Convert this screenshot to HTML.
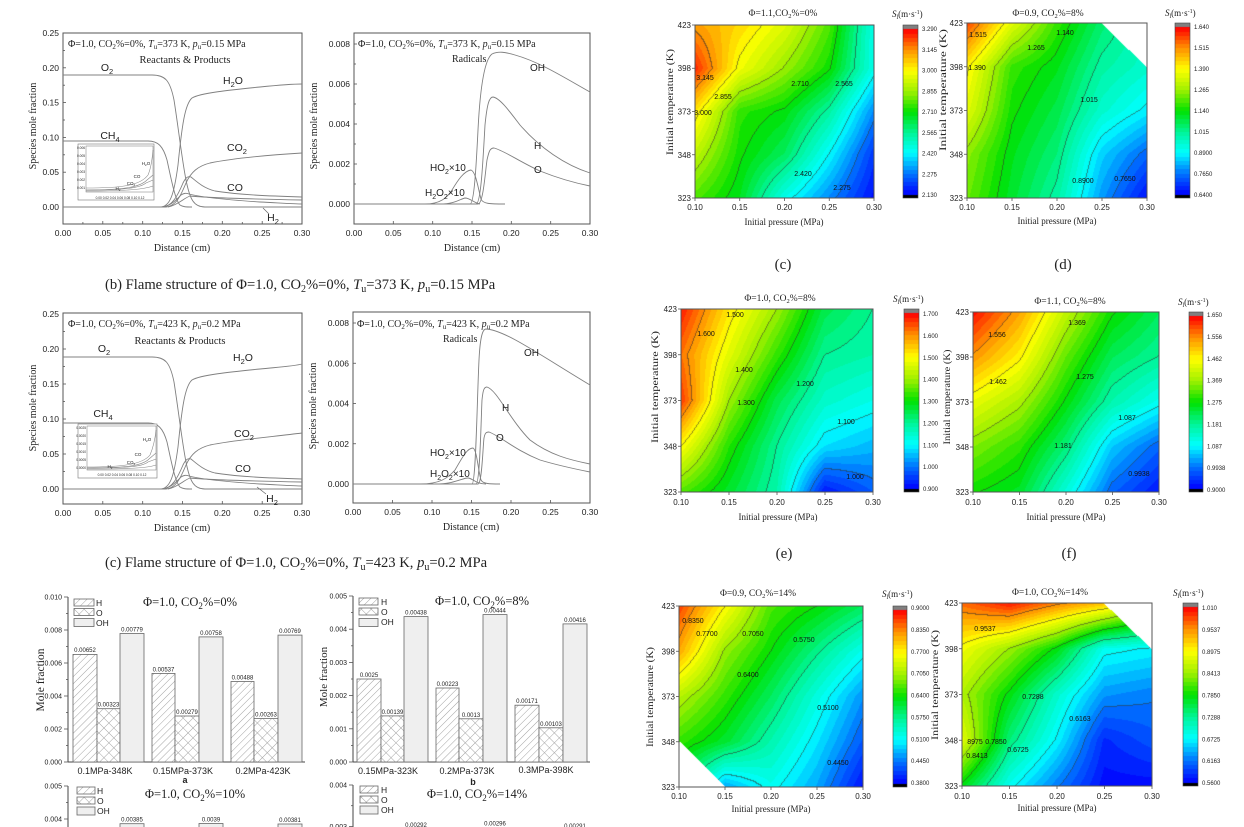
<!DOCTYPE html>
<html><head><meta charset="utf-8">
<style>
html,body{margin:0;padding:0;background:#fff;}
body{width:1244px;height:827px;position:relative;overflow:hidden;}
canvas{position:absolute;z-index:0;}
svg{position:absolute;left:0;top:0;z-index:1;}
.s{font-family:"Liberation Sans",Arial,sans-serif;fill:#222;}
.r{font-family:"Liberation Serif","Times New Roman",serif;fill:#222;}
.fr{fill:none;stroke:#555;stroke-width:1;}
.cv{fill:none;stroke:#808080;stroke-width:0.9;}
.tk{stroke:#555;stroke-width:0.8;}
.bar{stroke:#666;stroke-width:0.8;}
</style></head><body>
<canvas id="m1" width="179" height="173" style="left:695px;top:25px;background:linear-gradient(135deg,#ff6000,#ffff00 25%,#00e000 50%,#00ffff 75%,#0030ff)"></canvas>
<canvas id="c1" width="15" height="173" style="left:903px;top:25px;background:linear-gradient(#f00,#ff0,#0e0,#0ff,#00f)"></canvas>
<canvas id="m2" width="180" height="175" style="left:967px;top:23px;background:linear-gradient(135deg,#ff6000,#ffff00 20%,#00e000 45%,#00ffff 75%,#0030ff)"></canvas>
<canvas id="c2" width="15" height="175" style="left:1175px;top:23px;background:linear-gradient(#f00,#ff0,#0e0,#0ff,#00f)"></canvas>
<canvas id="m3" width="192" height="183" style="left:681px;top:309px;background:linear-gradient(135deg,#ff3000,#ffff00 25%,#00e000 50%,#00ffff 75%,#0030ff)"></canvas>
<canvas id="c3" width="15" height="183" style="left:904px;top:309px;background:linear-gradient(#f00,#ff0,#0e0,#0ff,#00f)"></canvas>
<canvas id="m4" width="186" height="180" style="left:973px;top:312px;background:linear-gradient(135deg,#ff3000,#ffff00 25%,#00e000 50%,#00ffff 75%,#0030ff)"></canvas>
<canvas id="c4" width="14" height="180" style="left:1189px;top:312px;background:linear-gradient(#f00,#ff0,#0e0,#0ff,#00f)"></canvas>
<canvas id="m5" width="184" height="181" style="left:679px;top:606px;background:linear-gradient(135deg,#ff3000,#ffff00 20%,#00e000 40%,#00ffff 70%,#0030ff)"></canvas>
<canvas id="c5" width="14" height="181" style="left:893px;top:606px;background:linear-gradient(#f00,#ff0,#0e0,#0ff,#00f)"></canvas>
<canvas id="m6" width="190" height="183" style="left:962px;top:603px;background:linear-gradient(135deg,#ff3000,#ffff00 20%,#00e000 40%,#00ffff 65%,#0030ff)"></canvas>
<canvas id="c6" width="15" height="183" style="left:1183px;top:603px;background:linear-gradient(#f00,#ff0,#0e0,#0ff,#00f)"></canvas>

<svg width="1244" height="827" viewBox="0 0 1244 827" xmlns="http://www.w3.org/2000/svg">
<defs>
<pattern id="ph" width="5" height="5" patternUnits="userSpaceOnUse" patternTransform="rotate(45)"><rect width="5" height="5" fill="#fff"/><line x1="0" y1="0" x2="0" y2="5" stroke="#9a9a9a" stroke-width="0.9"/></pattern>
<pattern id="po" width="7" height="7" patternUnits="userSpaceOnUse" patternTransform="rotate(45)"><rect width="7" height="7" fill="#fff"/><line x1="0" y1="0" x2="0" y2="7" stroke="#9a9a9a" stroke-width="0.9"/><line x1="0" y1="0" x2="7" y2="0" stroke="#9a9a9a" stroke-width="0.9"/></pattern>
</defs>

<!-- ============ FLAME ROW 1 LEFT ============ -->
<rect class="fr" x="63" y="33" width="239" height="191"/>
<g class="tk">
<line x1="63" y1="207" x2="66" y2="207"/><line x1="63" y1="172.2" x2="66" y2="172.2"/><line x1="63" y1="137.4" x2="66" y2="137.4"/><line x1="63" y1="102.6" x2="66" y2="102.6"/><line x1="63" y1="67.8" x2="66" y2="67.8"/>
<line x1="63" y1="189.6" x2="65" y2="189.6"/><line x1="63" y1="154.8" x2="65" y2="154.8"/><line x1="63" y1="120" x2="65" y2="120"/><line x1="63" y1="85.2" x2="65" y2="85.2"/><line x1="63" y1="50.4" x2="65" y2="50.4"/>
<line x1="102.8" y1="224" x2="102.8" y2="221"/><line x1="142.7" y1="224" x2="142.7" y2="221"/><line x1="182.5" y1="224" x2="182.5" y2="221"/><line x1="222.3" y1="224" x2="222.3" y2="221"/><line x1="262.2" y1="224" x2="262.2" y2="221"/>
<line x1="82.9" y1="224" x2="82.9" y2="222"/><line x1="122.8" y1="224" x2="122.8" y2="222"/><line x1="162.6" y1="224" x2="162.6" y2="222"/><line x1="202.4" y1="224" x2="202.4" y2="222"/><line x1="242.3" y1="224" x2="242.3" y2="222"/><line x1="282.1" y1="224" x2="282.1" y2="222"/>
</g>
<g class="s" font-size="8.5" text-anchor="end">
<text x="59" y="210">0.00</text><text x="59" y="175.2">0.05</text><text x="59" y="140.4">0.10</text><text x="59" y="105.6">0.15</text><text x="59" y="70.8">0.20</text><text x="59" y="36">0.25</text>
</g>
<g class="s" font-size="8.5" text-anchor="middle">
<text x="63" y="236">0.00</text><text x="102.8" y="236">0.05</text><text x="142.7" y="236">0.10</text><text x="182.5" y="236">0.15</text><text x="222.3" y="236">0.20</text><text x="262.2" y="236">0.25</text><text x="302" y="236">0.30</text>
</g>
<text class="r" font-size="10" x="182" y="251" text-anchor="middle">Distance (cm)</text>
<text class="r" font-size="10" text-anchor="middle" transform="translate(36,126) rotate(-90)">Species mole fraction</text>
<text class="r" font-size="10" x="68" y="47">Φ=1.0, CO<tspan font-size="7" dy="2">2</tspan><tspan dy="-2">%=0%, </tspan><tspan font-style="italic">T</tspan><tspan font-size="7" dy="2">u</tspan><tspan dy="-2">=373 K, </tspan><tspan font-style="italic">p</tspan><tspan font-size="7" dy="2">u</tspan><tspan dy="-2">=0.15 MPa</tspan></text>
<text class="r" font-size="10.5" x="185" y="63" text-anchor="middle">Reactants &amp; Products</text>
<g id="fl1">
<path class="cv" d="M63,75 L152,75 C165,75 170,80 174,100 C178,125 182,160 186,180 C190,200 194,207 205,207 L302,207"/>
<path class="cv" d="M63,141 L148,141 C158,141 163,146 167,160 C171,178 175,200 180,205 C183,207 186,207 192,207"/>
<path class="cv" d="M63,207 L160,207 C170,207 174,195 178,165 C182,125 185,104 192,98 C200,93 230,90 260,87 C280,85 295,84 302,84"/>
<path class="cv" d="M63,207 L165,207 C176,207 181,195 186,183 C191,172 198,166 210,163 C235,158 270,155 302,153"/>
<path class="cv" d="M63,207 L162,207 C172,207 178,195 183,183 C186,177 188,176 191,177 C196,181 203,188 215,191 C240,195 270,196 302,197"/>
<path class="cv" d="M63,207 L160,207 C170,207 176,200 181,195 C184,193 186,193 189,194 C200,197 230,200 260,202 C280,203 295,204 302,204"/>
<path class="cv" d="M168,207 C178,205 184,198 190,196 C210,198 250,199 302,200"/>
</g>
<rect x="78" y="144" width="76" height="56" fill="#fff" stroke="#777" stroke-width="0.6"/>
<rect x="86" y="146" width="67" height="46" fill="none" stroke="#777" stroke-width="0.5"/>
<g class="s" font-size="3.2" text-anchor="end"><text x="85" y="149">0.006</text><text x="85" y="157">0.005</text><text x="85" y="165">0.004</text><text x="85" y="173">0.003</text><text x="85" y="181">0.002</text><text x="85" y="189">0.001</text></g>
<text class="s" font-size="3.2" x="120" y="199" text-anchor="middle">0.00  0.02  0.04  0.06  0.08  0.10  0.12</text>
<g fill="none" stroke="#888" stroke-width="0.6">
<path d="M86,188 C120,188 140,186 148,175 C151,168 152,160 153,150"/>
<path d="M86,190 C125,190 140,187 147,180 L153,175"/>
<path d="M86,190 C125,190 140,188 146,183 L153,180"/>
<path d="M86,191 C130,191 145,189 153,186"/>
</g>
<g class="s" font-size="4.5" text-anchor="middle"><text x="146" y="165">H<tspan font-size="3" dy="1">2</tspan><tspan dy="-1">O</tspan></text><text x="137" y="178">CO</text><text x="131" y="185">CO<tspan font-size="3" dy="1">2</tspan></text><text x="118" y="190">H<tspan font-size="3" dy="1">2</tspan></text></g>
<g class="s" font-size="10.5" text-anchor="middle">
<text x="107" y="71">O<tspan font-size="7.5" dy="3">2</tspan></text>
<text x="233" y="84">H<tspan font-size="7.5" dy="3">2</tspan><tspan dy="-3">O</tspan></text>
<text x="110" y="139">CH<tspan font-size="7.5" dy="3">4</tspan></text>
<text x="237" y="151">CO<tspan font-size="7.5" dy="3">2</tspan></text>
<text x="235" y="191">CO</text>
<text x="273" y="221">H<tspan font-size="7.5" dy="3">2</tspan></text>
</g>
<line x1="263" y1="208" x2="269" y2="214" stroke="#666" stroke-width="0.7"/>

<!-- ============ FLAME ROW 1 RIGHT ============ -->
<rect class="fr" x="354" y="33" width="236" height="191"/>
<g class="tk">
<line x1="354" y1="204" x2="357" y2="204"/><line x1="354" y1="164" x2="357" y2="164"/><line x1="354" y1="124" x2="357" y2="124"/><line x1="354" y1="84" x2="357" y2="84"/><line x1="354" y1="44" x2="357" y2="44"/>
<line x1="354" y1="184" x2="356" y2="184"/><line x1="354" y1="144" x2="356" y2="144"/><line x1="354" y1="104" x2="356" y2="104"/><line x1="354" y1="64" x2="356" y2="64"/>
<line x1="393.3" y1="224" x2="393.3" y2="221"/><line x1="432.7" y1="224" x2="432.7" y2="221"/><line x1="472" y1="224" x2="472" y2="221"/><line x1="511.3" y1="224" x2="511.3" y2="221"/><line x1="550.7" y1="224" x2="550.7" y2="221"/>
</g>
<g class="s" font-size="8.5" text-anchor="end">
<text x="350" y="207">0.000</text><text x="350" y="167">0.002</text><text x="350" y="127">0.004</text><text x="350" y="87">0.006</text><text x="350" y="47">0.008</text>
</g>
<g class="s" font-size="8.5" text-anchor="middle">
<text x="354" y="236">0.00</text><text x="393.3" y="236">0.05</text><text x="432.7" y="236">0.10</text><text x="472" y="236">0.15</text><text x="511.3" y="236">0.20</text><text x="550.7" y="236">0.25</text><text x="590" y="236">0.30</text>
</g>
<text class="r" font-size="10" x="472" y="251" text-anchor="middle">Distance (cm)</text>
<text class="r" font-size="10" text-anchor="middle" transform="translate(317,126) rotate(-90)">Species mole fraction</text>
<text class="r" font-size="10" x="358" y="47">Φ=1.0, CO<tspan font-size="7" dy="2">2</tspan><tspan dy="-2">%=0%, </tspan><tspan font-style="italic">T</tspan><tspan font-size="7" dy="2">u</tspan><tspan dy="-2">=373 K, </tspan><tspan font-style="italic">p</tspan><tspan font-size="7" dy="2">u</tspan><tspan dy="-2">=0.15 MPa</tspan></text>
<text class="r" font-size="10" x="452" y="62">Radicals</text>
<path class="cv" d="M354,204 L470,204 C474,204 476,170 478,130 C480,90 484,60 492,54 C498,51 505,52 515,55 C540,62 565,78 590,92"/>
<path class="cv" d="M354,204 L476,204 C481,204 483,160 485,125 C487,105 489,97 493,97 C500,98 510,112 520,125 C540,148 565,165 590,173"/>
<path class="cv" d="M354,204 L478,204 C483,204 485,175 487,160 C489,151 490,148 494,148 C505,151 520,162 540,171 C560,179 575,183 590,186"/>
<path class="cv" d="M425,204 C440,204 447,198 452,190 C458,180 464,171 471,170 C476,172 478,188 481,199 C483,204 490,204 505,204"/>
<path class="cv" d="M440,204 C455,204 460,199 465,198 C470,198 474,203 480,204"/>
<g class="s" font-size="10">
<text x="530" y="71">OH</text><text x="534" y="149">H</text><text x="534" y="173">O</text>
<text x="430" y="171">HO<tspan font-size="7" dy="3">2</tspan><tspan dy="-3">×10</tspan></text>
<text x="425" y="196">H<tspan font-size="7" dy="3">2</tspan><tspan dy="-3">O</tspan><tspan font-size="7" dy="3">2</tspan><tspan dy="-3">×10</tspan></text>
</g>

<!-- caption b -->
<text class="r" font-size="14.6" x="105" y="289">(b) Flame structure of Φ=1.0, CO<tspan font-size="10" dy="3">2</tspan><tspan dy="-3">%=0%, </tspan><tspan font-style="italic">T</tspan><tspan font-size="10" dy="3">u</tspan><tspan dy="-3">=373 K, </tspan><tspan font-style="italic">p</tspan><tspan font-size="10" dy="3">u</tspan><tspan dy="-3">=0.15 MPa</tspan></text>

<!-- ============ FLAME ROW 2 LEFT ============ -->
<rect class="fr" x="63" y="313" width="239" height="191"/>
<g class="tk">
<line x1="63" y1="489" x2="66" y2="489"/><line x1="63" y1="454" x2="66" y2="454"/><line x1="63" y1="419" x2="66" y2="419"/><line x1="63" y1="384" x2="66" y2="384"/><line x1="63" y1="349" x2="66" y2="349"/>
<line x1="63" y1="471.5" x2="65" y2="471.5"/><line x1="63" y1="436.5" x2="65" y2="436.5"/><line x1="63" y1="401.5" x2="65" y2="401.5"/><line x1="63" y1="366.5" x2="65" y2="366.5"/><line x1="63" y1="331.5" x2="65" y2="331.5"/>
<line x1="102.8" y1="504" x2="102.8" y2="501"/><line x1="142.7" y1="504" x2="142.7" y2="501"/><line x1="182.5" y1="504" x2="182.5" y2="501"/><line x1="222.3" y1="504" x2="222.3" y2="501"/><line x1="262.2" y1="504" x2="262.2" y2="501"/>
</g>
<g class="s" font-size="8.5" text-anchor="end">
<text x="59" y="492">0.00</text><text x="59" y="457">0.05</text><text x="59" y="422">0.10</text><text x="59" y="387">0.15</text><text x="59" y="352">0.20</text><text x="59" y="317">0.25</text>
</g>
<g class="s" font-size="8.5" text-anchor="middle">
<text x="63" y="516">0.00</text><text x="102.8" y="516">0.05</text><text x="142.7" y="516">0.10</text><text x="182.5" y="516">0.15</text><text x="222.3" y="516">0.20</text><text x="262.2" y="516">0.25</text><text x="302" y="516">0.30</text>
</g>
<text class="r" font-size="10" x="182" y="531" text-anchor="middle">Distance (cm)</text>
<text class="r" font-size="10" text-anchor="middle" transform="translate(36,408) rotate(-90)">Species mole fraction</text>
<text class="r" font-size="10" x="68" y="327">Φ=1.0, CO<tspan font-size="7" dy="2">2</tspan><tspan dy="-2">%=0%, </tspan><tspan font-style="italic">T</tspan><tspan font-size="7" dy="2">u</tspan><tspan dy="-2">=423 K, </tspan><tspan font-style="italic">p</tspan><tspan font-size="7" dy="2">u</tspan><tspan dy="-2">=0.2 MPa</tspan></text>
<text class="r" font-size="10.5" x="180" y="344" text-anchor="middle">Reactants &amp; Products</text>
<g transform="translate(0,282)">
<path class="cv" d="M63,75 L152,75 C165,75 170,80 174,100 C178,125 182,160 186,180 C190,200 194,207 205,207 L302,207"/>
<path class="cv" d="M63,141 L148,141 C158,141 163,146 167,160 C171,178 175,200 180,205 C183,207 186,207 192,207"/>
<path class="cv" d="M63,207 L160,207 C170,207 174,195 178,165 C182,125 185,104 192,98 C200,93 230,90 260,87 C280,85 295,84 302,82"/>
<path class="cv" d="M63,207 L165,207 C176,207 181,195 186,183 C191,172 198,166 210,163 C235,158 270,155 302,151"/>
<path class="cv" d="M63,207 L162,207 C172,207 178,195 183,183 C186,177 188,176 191,177 C196,181 203,188 215,191 C240,195 270,196 302,197"/>
<path class="cv" d="M63,207 L160,207 C170,207 176,200 181,195 C184,193 186,193 189,194 C200,197 230,200 260,202 C280,203 295,204 302,204"/>
<path class="cv" d="M168,207 C178,205 184,198 190,196 C210,198 250,199 302,200"/>
</g>
<rect x="78" y="424" width="79" height="54" fill="#fff" stroke="#777" stroke-width="0.6"/>
<rect x="87" y="426" width="69" height="44" fill="none" stroke="#777" stroke-width="0.5"/>
<g class="s" font-size="3.2" text-anchor="end"><text x="86" y="429">0.0025</text><text x="86" y="437">0.0020</text><text x="86" y="445">0.0015</text><text x="86" y="453">0.0010</text><text x="86" y="461">0.0005</text><text x="86" y="469">0.0000</text></g>
<text class="s" font-size="3.2" x="122" y="476" text-anchor="middle">0.00  0.02  0.04  0.06  0.08  0.10  0.12</text>
<g fill="none" stroke="#888" stroke-width="0.6">
<path d="M87,467 C120,467 142,465 150,455 C153,448 155,440 156,430"/>
<path d="M87,468 C125,468 142,466 149,459 L156,453"/>
<path d="M87,468 C125,468 142,467 148,462 L156,459"/>
<path d="M87,469 C130,469 148,468 156,465"/>
</g>
<g class="s" font-size="4.5" text-anchor="middle"><text x="147" y="441">H<tspan font-size="3" dy="1">2</tspan><tspan dy="-1">O</tspan></text><text x="138" y="456">CO</text><text x="131" y="464">CO<tspan font-size="3" dy="1">2</tspan></text><text x="110" y="468">H<tspan font-size="3" dy="1">2</tspan></text></g>
<g class="s" font-size="10.5" text-anchor="middle">
<text x="104" y="352">O<tspan font-size="7.5" dy="3">2</tspan></text>
<text x="243" y="361">H<tspan font-size="7.5" dy="3">2</tspan><tspan dy="-3">O</tspan></text>
<text x="103" y="417">CH<tspan font-size="7.5" dy="3">4</tspan></text>
<text x="244" y="437">CO<tspan font-size="7.5" dy="3">2</tspan></text>
<text x="243" y="472">CO</text>
<text x="272" y="502">H<tspan font-size="7.5" dy="3">2</tspan></text>
</g>
<line x1="257" y1="487" x2="266" y2="494" stroke="#666" stroke-width="0.7"/>

<!-- ============ FLAME ROW 2 RIGHT ============ -->
<rect class="fr" x="353" y="312" width="237" height="191"/>
<g class="tk">
<line x1="353" y1="484" x2="356" y2="484"/><line x1="353" y1="443.75" x2="356" y2="443.75"/><line x1="353" y1="403.5" x2="356" y2="403.5"/><line x1="353" y1="363.25" x2="356" y2="363.25"/><line x1="353" y1="323" x2="356" y2="323"/>
<line x1="392.5" y1="503" x2="392.5" y2="500"/><line x1="432" y1="503" x2="432" y2="500"/><line x1="471.5" y1="503" x2="471.5" y2="500"/><line x1="511" y1="503" x2="511" y2="500"/><line x1="550.5" y1="503" x2="550.5" y2="500"/>
</g>
<g class="s" font-size="8.5" text-anchor="end">
<text x="349" y="487">0.000</text><text x="349" y="446.75">0.002</text><text x="349" y="406.5">0.004</text><text x="349" y="366.25">0.006</text><text x="349" y="326">0.008</text>
</g>
<g class="s" font-size="8.5" text-anchor="middle">
<text x="353" y="515">0.00</text><text x="392.5" y="515">0.05</text><text x="432" y="515">0.10</text><text x="471.5" y="515">0.15</text><text x="511" y="515">0.20</text><text x="550.5" y="515">0.25</text><text x="590" y="515">0.30</text>
</g>
<text class="r" font-size="10" x="471" y="530" text-anchor="middle">Distance (cm)</text>
<text class="r" font-size="10" text-anchor="middle" transform="translate(316,406) rotate(-90)">Species mole fraction</text>
<text class="r" font-size="10" x="357" y="327">Φ=1.0, CO<tspan font-size="7" dy="2">2</tspan><tspan dy="-2">%=0%, </tspan><tspan font-style="italic">T</tspan><tspan font-size="7" dy="2">u</tspan><tspan dy="-2">=423 K, </tspan><tspan font-style="italic">p</tspan><tspan font-size="7" dy="2">u</tspan><tspan dy="-2">=0.2 MPa</tspan></text>
<text class="r" font-size="10" x="443" y="342">Radicals</text>
<path class="cv" d="M353,484 L472,484 C476,484 477,400 479,360 C480,340 482,329 486,329 C505,330 540,355 590,385"/>
<path class="cv" d="M353,484 L476,484 C480,484 481,420 482,400 C483,390 484,387 487,387 C497,390 510,420 530,440 C550,455 570,460 590,464"/>
<path class="cv" d="M353,484 L478,484 C482,484 483,445 484,438 C485,433 486,432 489,432 C500,436 515,450 540,460 C560,466 575,469 590,472"/>
<path class="cv" d="M420,484 C440,484 448,478 455,470 C462,458 467,448 473,448 C477,450 478,470 481,480 C483,484 490,484 500,484"/>
<path class="cv" d="M435,484 C455,484 462,478 468,478 C472,478 476,484 486,484"/>
<g class="s" font-size="10">
<text x="524" y="356">OH</text><text x="502" y="411">H</text><text x="496" y="441">O</text>
<text x="430" y="456">HO<tspan font-size="7" dy="3">2</tspan><tspan dy="-3">×10</tspan></text>
<text x="430" y="477">H<tspan font-size="7" dy="3">2</tspan><tspan dy="-3">O</tspan><tspan font-size="7" dy="3">2</tspan><tspan dy="-3">×10</tspan></text>
</g>

<!-- caption c -->
<text class="r" font-size="14.6" x="105" y="567">(c) Flame structure of Φ=1.0, CO<tspan font-size="10" dy="3">2</tspan><tspan dy="-3">%=0%, </tspan><tspan font-style="italic">T</tspan><tspan font-size="10" dy="3">u</tspan><tspan dy="-3">=423 K, </tspan><tspan font-style="italic">p</tspan><tspan font-size="10" dy="3">u</tspan><tspan dy="-3">=0.2 MPa</tspan></text>

<!-- ============ BAR CHART A ============ -->
<line x1="68" y1="597" x2="68" y2="762" stroke="#444" stroke-width="1"/>
<line x1="68" y1="762" x2="305" y2="762" stroke="#444" stroke-width="1"/>
<g class="tk"><line x1="64" y1="762" x2="68" y2="762"/><line x1="64" y1="729" x2="68" y2="729"/><line x1="64" y1="696" x2="68" y2="696"/><line x1="64" y1="663" x2="68" y2="663"/><line x1="64" y1="630" x2="68" y2="630"/><line x1="64" y1="597" x2="68" y2="597"/>
<line x1="66" y1="745.5" x2="68" y2="745.5"/><line x1="66" y1="712.5" x2="68" y2="712.5"/><line x1="66" y1="679.5" x2="68" y2="679.5"/><line x1="66" y1="646.5" x2="68" y2="646.5"/><line x1="66" y1="613.5" x2="68" y2="613.5"/></g>
<g class="s" font-size="7" text-anchor="end"><text x="62" y="764.5">0.000</text><text x="62" y="731.5">0.002</text><text x="62" y="698.5">0.004</text><text x="62" y="665.5">0.006</text><text x="62" y="632.5">0.008</text><text x="62" y="599.5">0.010</text></g>
<text class="r" font-size="11.5" text-anchor="middle" transform="translate(44,680) rotate(-90)">Mole fraction</text>
<rect class="bar" x="73" y="654.4" width="24" height="107.6" fill="url(#ph)"/>
<rect class="bar" x="97" y="708.7" width="23" height="53.3" fill="url(#po)"/>
<rect class="bar" x="120" y="633.5" width="24" height="128.5" fill="#efefef"/>
<rect class="bar" x="152" y="673.4" width="23" height="88.6" fill="url(#ph)"/>
<rect class="bar" x="175" y="716" width="24" height="46" fill="url(#po)"/>
<rect class="bar" x="199" y="636.9" width="24" height="125.1" fill="#efefef"/>
<rect class="bar" x="231" y="681.5" width="23" height="80.5" fill="url(#ph)"/>
<rect class="bar" x="254" y="718.6" width="24" height="43.4" fill="url(#po)"/>
<rect class="bar" x="278" y="635.1" width="24" height="126.9" fill="#efefef"/>
<g class="s" font-size="6" text-anchor="middle">
<text x="85" y="652">0.00652</text><text x="108.5" y="706.5">0.00323</text><text x="132" y="631.5">0.00779</text>
<text x="163.5" y="671.5">0.00537</text><text x="187" y="714">0.00279</text><text x="211" y="635">0.00758</text>
<text x="242.5" y="679.5">0.00488</text><text x="266" y="716.5">0.00263</text><text x="290" y="633">0.00769</text>
</g>
<g class="s" font-size="9" text-anchor="middle"><text x="105" y="774">0.1MPa-348K</text><text x="183" y="774">0.15MPa-373K</text><text x="263" y="774">0.2MPa-423K</text></g>
<text class="s" font-size="9" font-weight="bold" x="185" y="783" text-anchor="middle">a</text>
<rect class="bar" x="74" y="599" width="20" height="7" fill="url(#ph)"/><rect class="bar" x="74" y="608.5" width="20" height="7" fill="url(#po)"/><rect class="bar" x="74" y="618.5" width="20" height="8" fill="#efefef"/>
<g class="s" font-size="8.5"><text x="96" y="606">H</text><text x="96" y="616">O</text><text x="96" y="626">OH</text></g>
<text class="r" font-size="12.5" x="190" y="606" text-anchor="middle">Φ=1.0, CO<tspan font-size="9" dy="3">2</tspan><tspan dy="-3">%=0%</tspan></text>

<!-- A row 2 -->
<line x1="68" y1="786" x2="68" y2="827" stroke="#444" stroke-width="1"/>
<g class="tk"><line x1="64" y1="786" x2="68" y2="786"/><line x1="64" y1="819" x2="68" y2="819"/><line x1="66" y1="802.5" x2="68" y2="802.5"/></g>
<g class="s" font-size="7" text-anchor="end"><text x="62" y="788.5">0.005</text><text x="62" y="821.5">0.004</text></g>
<rect class="bar" x="120" y="823.7" width="24" height="10" fill="#efefef"/><rect class="bar" x="199" y="823.5" width="24" height="10" fill="#efefef"/><rect class="bar" x="278" y="824" width="24" height="10" fill="#efefef"/>
<g class="s" font-size="6" text-anchor="middle"><text x="132" y="821.5">0.00385</text><text x="211" y="821.5">0.0039</text><text x="290" y="822">0.00381</text></g>
<rect class="bar" x="77" y="787" width="18" height="7" fill="url(#ph)"/><rect class="bar" x="77" y="797" width="18" height="7" fill="url(#po)"/><rect class="bar" x="77" y="807" width="18" height="8" fill="#efefef"/>
<g class="s" font-size="8.5"><text x="97" y="794">H</text><text x="97" y="804">O</text><text x="97" y="814">OH</text></g>
<text class="r" font-size="12.5" x="195" y="798" text-anchor="middle">Φ=1.0, CO<tspan font-size="9" dy="3">2</tspan><tspan dy="-3">%=10%</tspan></text>

<!-- ============ BAR CHART B ============ -->
<line x1="353" y1="596" x2="353" y2="762" stroke="#444" stroke-width="1"/>
<line x1="353" y1="762" x2="590" y2="762" stroke="#444" stroke-width="1"/>
<g class="tk"><line x1="349" y1="762" x2="353" y2="762"/><line x1="349" y1="728.8" x2="353" y2="728.8"/><line x1="349" y1="695.6" x2="353" y2="695.6"/><line x1="349" y1="662.4" x2="353" y2="662.4"/><line x1="349" y1="629.2" x2="353" y2="629.2"/><line x1="349" y1="596" x2="353" y2="596"/>
<line x1="351" y1="745.4" x2="353" y2="745.4"/><line x1="351" y1="712.2" x2="353" y2="712.2"/><line x1="351" y1="679" x2="353" y2="679"/><line x1="351" y1="645.8" x2="353" y2="645.8"/><line x1="351" y1="612.6" x2="353" y2="612.6"/></g>
<g class="s" font-size="7" text-anchor="end"><text x="347" y="764.5">0.000</text><text x="347" y="731.3">0.001</text><text x="347" y="698.1">0.002</text><text x="347" y="664.9">0.003</text><text x="347" y="631.7">0.004</text><text x="347" y="598.5">0.005</text></g>
<text class="r" font-size="11" text-anchor="middle" transform="translate(327,677) rotate(-90)">Mole fraction</text>
<rect class="bar" x="357" y="679" width="24" height="83" fill="url(#ph)"/>
<rect class="bar" x="381" y="715.9" width="23" height="46.1" fill="url(#po)"/>
<rect class="bar" x="404" y="616.6" width="24" height="145.4" fill="#efefef"/>
<rect class="bar" x="436" y="688" width="23" height="74" fill="url(#ph)"/>
<rect class="bar" x="459" y="718.8" width="24" height="43.2" fill="url(#po)"/>
<rect class="bar" x="483" y="614.6" width="24" height="147.4" fill="#efefef"/>
<rect class="bar" x="515" y="705.2" width="24" height="56.8" fill="url(#ph)"/>
<rect class="bar" x="539" y="727.8" width="24" height="34.2" fill="url(#po)"/>
<rect class="bar" x="563" y="623.9" width="24" height="138.1" fill="#efefef"/>
<g class="s" font-size="6" text-anchor="middle">
<text x="369" y="677">0.0025</text><text x="392.5" y="714">0.00139</text><text x="416" y="614.5">0.00438</text>
<text x="447.5" y="686">0.00223</text><text x="471" y="717">0.0013</text><text x="495" y="612.5">0.00444</text>
<text x="527" y="703">0.00171</text><text x="551" y="726">0.00103</text><text x="575" y="622">0.00416</text>
</g>
<g class="s" font-size="9" text-anchor="middle"><text x="388" y="774">0.15MPa-323K</text><text x="467" y="774">0.2MPa-373K</text><text x="546" y="773">0.3MPa-398K</text></g>
<text class="s" font-size="9" font-weight="bold" x="473" y="785" text-anchor="middle">b</text>
<rect class="bar" x="359" y="598" width="19" height="7" fill="url(#ph)"/><rect class="bar" x="359" y="608" width="19" height="7" fill="url(#po)"/><rect class="bar" x="359" y="618.5" width="19" height="8" fill="#efefef"/>
<g class="s" font-size="8.5"><text x="381" y="605">H</text><text x="381" y="615">O</text><text x="381" y="625">OH</text></g>
<text class="r" font-size="12.5" x="482" y="605" text-anchor="middle">Φ=1.0, CO<tspan font-size="9" dy="3">2</tspan><tspan dy="-3">%=8%</tspan></text>

<!-- B row 2 -->
<line x1="353" y1="785" x2="353" y2="827" stroke="#444" stroke-width="1"/>
<g class="tk"><line x1="349" y1="785" x2="353" y2="785"/><line x1="349" y1="826.5" x2="353" y2="826.5"/><line x1="351" y1="805.7" x2="353" y2="805.7"/></g>
<g class="s" font-size="7" text-anchor="end"><text x="347" y="787.5">0.004</text><text x="347" y="829">0.003</text></g>
<g class="s" font-size="6" text-anchor="middle"><text x="416" y="827">0.00292</text><text x="495" y="825.5">0.00296</text><text x="575" y="828">0.00291</text></g>
<rect class="bar" x="360" y="786" width="18" height="7" fill="url(#ph)"/><rect class="bar" x="360" y="796" width="18" height="7" fill="url(#po)"/><rect class="bar" x="360" y="806" width="18" height="8" fill="#efefef"/>
<g class="s" font-size="8.5"><text x="381" y="793">H</text><text x="381" y="803">O</text><text x="381" y="813">OH</text></g>
<text class="r" font-size="12.5" x="477" y="798" text-anchor="middle">Φ=1.0, CO<tspan font-size="9" dy="3">2</tspan><tspan dy="-3">%=14%</tspan></text>

<!-- ============ CONTOUR (c) ============ -->
<rect class="fr" x="695" y="25" width="179" height="173"/>
<rect x="903" y="25" width="15" height="173" fill="none" stroke="#444" stroke-width="0.6"/>
<g class="tk"><line x1="692" y1="25" x2="695" y2="25"/><line x1="692" y1="68.25" x2="695" y2="68.25"/><line x1="692" y1="111.5" x2="695" y2="111.5"/><line x1="692" y1="154.75" x2="695" y2="154.75"/><line x1="692" y1="198" x2="695" y2="198"/>
<line x1="695" y1="198" x2="695" y2="201"/><line x1="739.75" y1="198" x2="739.75" y2="201"/><line x1="784.5" y1="198" x2="784.5" y2="201"/><line x1="829.25" y1="198" x2="829.25" y2="201"/><line x1="874" y1="198" x2="874" y2="201"/></g>
<g class="s" font-size="8" text-anchor="end"><text x="691" y="28">423</text><text x="691" y="71">398</text><text x="691" y="114.5">373</text><text x="691" y="158">348</text><text x="691" y="201">323</text></g>
<g class="s" font-size="8" text-anchor="middle"><text x="695" y="210">0.10</text><text x="739.75" y="210">0.15</text><text x="784.5" y="210">0.20</text><text x="829.25" y="210">0.25</text><text x="874" y="210">0.30</text></g>
<text class="r" font-size="9" x="784" y="225" text-anchor="middle">Initial pressure (MPa)</text>
<text class="r" font-size="9" text-anchor="middle" transform="translate(673,102) rotate(-90)" textLength="106" lengthAdjust="spacingAndGlyphs">Initial temperature (K)</text>
<text class="r" font-size="9.5" x="783" y="16" text-anchor="middle">Φ=1.1,CO<tspan font-size="6.5" dy="2">2</tspan><tspan dy="-2">%=0%</tspan></text>
<text class="r" font-size="9" x="892" y="17"><tspan font-style="italic">S</tspan><tspan font-size="6" dy="2">l</tspan><tspan dy="-2">(m·s</tspan><tspan font-size="6" dy="-3">-1</tspan><tspan dy="3">)</tspan></text>
<g class="s" font-size="6"><text x="922" y="31">3.290</text><text x="922" y="51.75">3.145</text><text x="922" y="72.5">3.000</text><text x="922" y="93.25">2.855</text><text x="922" y="114">2.710</text><text x="922" y="134.75">2.565</text><text x="922" y="155.5">2.420</text><text x="922" y="176.25">2.275</text><text x="922" y="197">2.130</text></g>
<g class="s" font-size="7" text-anchor="middle" style="fill:#111"><text x="705" y="80">3.145</text><text x="723" y="99">2.855</text><text x="703" y="115">3.000</text><text x="800" y="86">2.710</text><text x="844" y="86">2.565</text><text x="803" y="176">2.420</text><text x="842" y="190">2.275</text></g>
<text class="r" font-size="15" x="783" y="269" text-anchor="middle">(c)</text>

<!-- ============ CONTOUR (d) ============ -->
<rect class="fr" x="967" y="23" width="180" height="175"/>
<rect x="1175" y="23" width="15" height="175" fill="none" stroke="#444" stroke-width="0.6"/>
<g class="tk"><line x1="964" y1="23" x2="967" y2="23"/><line x1="964" y1="66.75" x2="967" y2="66.75"/><line x1="964" y1="110.5" x2="967" y2="110.5"/><line x1="964" y1="154.25" x2="967" y2="154.25"/><line x1="964" y1="198" x2="967" y2="198"/>
<line x1="967" y1="198" x2="967" y2="201"/><line x1="1012" y1="198" x2="1012" y2="201"/><line x1="1057" y1="198" x2="1057" y2="201"/><line x1="1102" y1="198" x2="1102" y2="201"/><line x1="1147" y1="198" x2="1147" y2="201"/></g>
<g class="s" font-size="8" text-anchor="end"><text x="963" y="26">423</text><text x="963" y="70">398</text><text x="963" y="113.5">373</text><text x="963" y="157.5">348</text><text x="963" y="201">323</text></g>
<g class="s" font-size="8" text-anchor="middle"><text x="967" y="210">0.10</text><text x="1012" y="210">0.15</text><text x="1057" y="210">0.20</text><text x="1102" y="210">0.25</text><text x="1147" y="210">0.30</text></g>
<text class="r" font-size="9" x="1057" y="224" text-anchor="middle">Initial pressure (MPa)</text>
<text class="r" font-size="9" text-anchor="middle" transform="translate(946,90) rotate(-90)" textLength="122" lengthAdjust="spacingAndGlyphs">Initial temperature (K)</text>
<text class="r" font-size="9.5" x="1048" y="16" text-anchor="middle">Φ=0.9, CO<tspan font-size="6.5" dy="2">2</tspan><tspan dy="-2">%=8%</tspan></text>
<text class="r" font-size="9" x="1165" y="16"><tspan font-style="italic">S</tspan><tspan font-size="6" dy="2">l</tspan><tspan dy="-2">(m·s</tspan><tspan font-size="6" dy="-3">-1</tspan><tspan dy="3">)</tspan></text>
<g class="s" font-size="6"><text x="1194" y="29">1.640</text><text x="1194" y="50">1.515</text><text x="1194" y="71">1.390</text><text x="1194" y="92">1.265</text><text x="1194" y="113">1.140</text><text x="1194" y="134">1.015</text><text x="1194" y="155">0.8900</text><text x="1194" y="176">0.7650</text><text x="1194" y="197">0.6400</text></g>
<g class="s" font-size="7" text-anchor="middle" style="fill:#111"><text x="978" y="37">1.515</text><text x="977" y="70">1.390</text><text x="1036" y="50">1.265</text><text x="1065" y="35">1.140</text><text x="1089" y="102">1.015</text><text x="1083" y="183">0.8900</text><text x="1125" y="181">0.7650</text></g>
<text class="r" font-size="15" x="1063" y="269" text-anchor="middle">(d)</text>

<!-- ============ CONTOUR (e) ============ -->
<rect class="fr" x="681" y="309" width="192" height="183"/>
<rect x="904" y="309" width="15" height="183" fill="none" stroke="#444" stroke-width="0.6"/>
<g class="tk"><line x1="678" y1="309" x2="681" y2="309"/><line x1="678" y1="354.75" x2="681" y2="354.75"/><line x1="678" y1="400.5" x2="681" y2="400.5"/><line x1="678" y1="446.25" x2="681" y2="446.25"/><line x1="678" y1="492" x2="681" y2="492"/>
<line x1="681" y1="492" x2="681" y2="495"/><line x1="729" y1="492" x2="729" y2="495"/><line x1="777" y1="492" x2="777" y2="495"/><line x1="825" y1="492" x2="825" y2="495"/><line x1="873" y1="492" x2="873" y2="495"/></g>
<g class="s" font-size="8" text-anchor="end"><text x="677" y="312">423</text><text x="677" y="358">398</text><text x="677" y="403.5">373</text><text x="677" y="449.5">348</text><text x="677" y="495">323</text></g>
<g class="s" font-size="8" text-anchor="middle"><text x="681" y="505">0.10</text><text x="729" y="505">0.15</text><text x="777" y="505">0.20</text><text x="825" y="505">0.25</text><text x="873" y="505">0.30</text></g>
<text class="r" font-size="9" x="778" y="520" text-anchor="middle">Initial pressure (MPa)</text>
<text class="r" font-size="9" text-anchor="middle" transform="translate(658,387) rotate(-90)" textLength="112" lengthAdjust="spacingAndGlyphs">Initial temperature (K)</text>
<text class="r" font-size="9.5" x="780" y="301" text-anchor="middle">Φ=1.0, CO<tspan font-size="6.5" dy="2">2</tspan><tspan dy="-2">%=8%</tspan></text>
<text class="r" font-size="9" x="893" y="302"><tspan font-style="italic">S</tspan><tspan font-size="6" dy="2">l</tspan><tspan dy="-2">(m·s</tspan><tspan font-size="6" dy="-3">-1</tspan><tspan dy="3">)</tspan></text>
<g class="s" font-size="6"><text x="923" y="316">1.700</text><text x="923" y="337.9">1.600</text><text x="923" y="359.75">1.500</text><text x="923" y="381.6">1.400</text><text x="923" y="403.5">1.300</text><text x="923" y="425.4">1.200</text><text x="923" y="447.25">1.100</text><text x="923" y="469.1">1.000</text><text x="923" y="491">0.900</text></g>
<g class="s" font-size="7" text-anchor="middle" style="fill:#111"><text x="735" y="317">1.500</text><text x="706" y="336">1.600</text><text x="744" y="372">1.400</text><text x="746" y="405">1.300</text><text x="805" y="386">1.200</text><text x="846" y="424">1.100</text><text x="855" y="479">1.000</text></g>
<text class="r" font-size="15" x="784" y="558" text-anchor="middle">(e)</text>

<!-- ============ CONTOUR (f) ============ -->
<rect class="fr" x="973" y="312" width="186" height="180"/>
<rect x="1189" y="312" width="14" height="180" fill="none" stroke="#444" stroke-width="0.6"/>
<g class="tk"><line x1="970" y1="312" x2="973" y2="312"/><line x1="970" y1="357" x2="973" y2="357"/><line x1="970" y1="402" x2="973" y2="402"/><line x1="970" y1="447" x2="973" y2="447"/><line x1="970" y1="492" x2="973" y2="492"/>
<line x1="973" y1="492" x2="973" y2="495"/><line x1="1019.5" y1="492" x2="1019.5" y2="495"/><line x1="1066" y1="492" x2="1066" y2="495"/><line x1="1112.5" y1="492" x2="1112.5" y2="495"/><line x1="1159" y1="492" x2="1159" y2="495"/></g>
<g class="s" font-size="8" text-anchor="end"><text x="969" y="315">423</text><text x="969" y="360">398</text><text x="969" y="405">373</text><text x="969" y="450">348</text><text x="969" y="495">323</text></g>
<g class="s" font-size="8" text-anchor="middle"><text x="973" y="505">0.10</text><text x="1019.5" y="505">0.15</text><text x="1066" y="505">0.20</text><text x="1112.5" y="505">0.25</text><text x="1159" y="505">0.30</text></g>
<text class="r" font-size="9" x="1066" y="520" text-anchor="middle">Initial pressure (MPa)</text>
<text class="r" font-size="9" text-anchor="middle" transform="translate(950,397) rotate(-90)" textLength="95" lengthAdjust="spacingAndGlyphs">Initial temperature (K)</text>
<text class="r" font-size="9.5" x="1070" y="304" text-anchor="middle">Φ=1.1, CO<tspan font-size="6.5" dy="2">2</tspan><tspan dy="-2">%=8%</tspan></text>
<text class="r" font-size="9" x="1178" y="305"><tspan font-style="italic">S</tspan><tspan font-size="6" dy="2">l</tspan><tspan dy="-2">(m·s</tspan><tspan font-size="6" dy="-3">-1</tspan><tspan dy="3">)</tspan></text>
<g class="s" font-size="6"><text x="1207" y="317">1.650</text><text x="1207" y="338.9">1.556</text><text x="1207" y="360.75">1.462</text><text x="1207" y="382.6">1.369</text><text x="1207" y="404.5">1.275</text><text x="1207" y="426.4">1.181</text><text x="1207" y="448.25">1.087</text><text x="1207" y="470.1">0.9938</text><text x="1207" y="492">0.9000</text></g>
<g class="s" font-size="7" text-anchor="middle" style="fill:#111"><text x="1077" y="325">1.369</text><text x="997" y="337">1.556</text><text x="998" y="384">1.462</text><text x="1085" y="379">1.275</text><text x="1127" y="420">1.087</text><text x="1063" y="448">1.181</text><text x="1139" y="476">0.9938</text></g>
<text class="r" font-size="15" x="1069" y="558" text-anchor="middle">(f)</text>

<!-- ============ CONTOUR (g) ============ -->
<rect class="fr" x="679" y="606" width="184" height="181"/>
<rect x="893" y="606" width="14" height="181" fill="none" stroke="#444" stroke-width="0.6"/>
<g class="tk"><line x1="676" y1="606" x2="679" y2="606"/><line x1="676" y1="651.25" x2="679" y2="651.25"/><line x1="676" y1="696.5" x2="679" y2="696.5"/><line x1="676" y1="741.75" x2="679" y2="741.75"/><line x1="676" y1="787" x2="679" y2="787"/>
<line x1="679" y1="787" x2="679" y2="790"/><line x1="725" y1="787" x2="725" y2="790"/><line x1="771" y1="787" x2="771" y2="790"/><line x1="817" y1="787" x2="817" y2="790"/><line x1="863" y1="787" x2="863" y2="790"/></g>
<g class="s" font-size="8" text-anchor="end"><text x="675" y="609">423</text><text x="675" y="654.5">398</text><text x="675" y="699.5">373</text><text x="675" y="745">348</text><text x="675" y="790">323</text></g>
<g class="s" font-size="8" text-anchor="middle"><text x="679" y="799">0.10</text><text x="725" y="799">0.15</text><text x="771" y="799">0.20</text><text x="817" y="799">0.25</text><text x="863" y="799">0.30</text></g>
<text class="r" font-size="9" x="771" y="812" text-anchor="middle">Initial pressure (MPa)</text>
<text class="r" font-size="9" text-anchor="middle" transform="translate(653,697) rotate(-90)" textLength="100" lengthAdjust="spacingAndGlyphs">Initial temperature (K)</text>
<text class="r" font-size="9.5" x="758" y="596" text-anchor="middle">Φ=0.9, CO<tspan font-size="6.5" dy="2">2</tspan><tspan dy="-2">%=14%</tspan></text>
<text class="r" font-size="9" x="882" y="597"><tspan font-style="italic">S</tspan><tspan font-size="6" dy="2">l</tspan><tspan dy="-2">(m·s</tspan><tspan font-size="6" dy="-3">-1</tspan><tspan dy="3">)</tspan></text>
<g class="s" font-size="6"><text x="911" y="610">0.9000</text><text x="911" y="631.9">0.8350</text><text x="911" y="653.75">0.7700</text><text x="911" y="675.6">0.7050</text><text x="911" y="697.5">0.6400</text><text x="911" y="719.4">0.5750</text><text x="911" y="741.25">0.5100</text><text x="911" y="763.1">0.4450</text><text x="911" y="785">0.3800</text></g>
<text class="r" font-size="9" text-anchor="middle" transform="translate(938,685) rotate(-90)" textLength="110" lengthAdjust="spacingAndGlyphs">Initial temperature (K)</text>
<g class="s" font-size="7" text-anchor="middle" style="fill:#111"><text x="693" y="623">0.8350</text><text x="707" y="636">0.7700</text><text x="753" y="636">0.7050</text><text x="804" y="642">0.5750</text><text x="748" y="677">0.6400</text><text x="828" y="710">0.5100</text><text x="838" y="765">0.4450</text></g>

<!-- ============ CONTOUR (h) ============ -->
<rect class="fr" x="962" y="603" width="190" height="183"/>
<rect x="1183" y="603" width="15" height="183" fill="none" stroke="#444" stroke-width="0.6"/>
<g class="tk"><line x1="959" y1="603" x2="962" y2="603"/><line x1="959" y1="648.75" x2="962" y2="648.75"/><line x1="959" y1="694.5" x2="962" y2="694.5"/><line x1="959" y1="740.25" x2="962" y2="740.25"/><line x1="959" y1="786" x2="962" y2="786"/>
<line x1="962" y1="786" x2="962" y2="789"/><line x1="1009.5" y1="786" x2="1009.5" y2="789"/><line x1="1057" y1="786" x2="1057" y2="789"/><line x1="1104.5" y1="786" x2="1104.5" y2="789"/><line x1="1152" y1="786" x2="1152" y2="789"/></g>
<g class="s" font-size="8" text-anchor="end"><text x="958" y="606">423</text><text x="958" y="652">398</text><text x="958" y="697.5">373</text><text x="958" y="743.5">348</text><text x="958" y="789">323</text></g>
<g class="s" font-size="8" text-anchor="middle"><text x="962" y="799">0.10</text><text x="1009.5" y="799">0.15</text><text x="1057" y="799">0.20</text><text x="1104.5" y="799">0.25</text><text x="1152" y="799">0.30</text></g>
<text class="r" font-size="9" x="1057" y="811" text-anchor="middle">Initial pressure (MPa)</text>
<text class="r" font-size="9.5" x="1050" y="595" text-anchor="middle">Φ=1.0, CO<tspan font-size="6.5" dy="2">2</tspan><tspan dy="-2">%=14%</tspan></text>
<text class="r" font-size="9" x="1173" y="596"><tspan font-style="italic">S</tspan><tspan font-size="6" dy="2">l</tspan><tspan dy="-2">(m·s</tspan><tspan font-size="6" dy="-3">-1</tspan><tspan dy="3">)</tspan></text>
<g class="s" font-size="6"><text x="1202" y="610">1.010</text><text x="1202" y="631.9">0.9537</text><text x="1202" y="653.75">0.8975</text><text x="1202" y="675.6">0.8413</text><text x="1202" y="697.5">0.7850</text><text x="1202" y="719.4">0.7288</text><text x="1202" y="741.25">0.6725</text><text x="1202" y="763.1">0.6163</text><text x="1202" y="785">0.5600</text></g>
<g class="s" font-size="7" text-anchor="middle" style="fill:#111"><text x="985" y="631">0.9537</text><text x="1033" y="699">0.7288</text><text x="1080" y="721">0.6163</text><text x="975" y="744">8975</text><text x="996" y="744">0.7850</text><text x="977" y="758">0.8413</text><text x="1018" y="752">0.6725</text></g>
</svg>

<script>
(function(){
var J=[[0,0,0,255],[0.125,0,115,255],[0.25,0,255,255],[0.375,0,245,150],[0.5,0,225,0],[0.625,160,240,0],[0.75,255,255,0],[0.875,255,145,0],[1,255,0,0]];
function jet(t){if(t<0)t=0;if(t>1)t=1;for(var i=1;i<J.length;i++){if(t<=J[i][0]){var a=J[i-1],b=J[i],f=(t-a[0])/(b[0]-a[0]);return [a[1]+(b[1]-a[1])*f,a[2]+(b[2]-a[2])*f,a[3]+(b[3]-a[3])*f];}}return [255,0,0];}
var M=[
{id:'m1',cb:'c1',lo:2.13,hi:3.29,mk:0,g:[[3.13,3.05,2.95,2.78,2.45],[3.25,2.98,2.85,2.72,2.45],[3.03,2.75,2.70,2.55,2.30],[2.90,2.72,2.62,2.42,2.20],[2.78,2.68,2.45,2.30,2.15]]},
{id:'m2',cb:'c2',lo:0.64,hi:1.64,mk:1,g:[[1.58,1.35,1.18,1.05,0.97],[1.40,1.18,1.12,1.00,0.95],[1.35,1.15,1.08,0.95,0.88],[1.25,1.12,1.04,0.85,0.75],[1.22,1.10,1.00,0.80,0.66]]},
{id:'m3',cb:'c3',lo:0.9,hi:1.7,mk:0,g:[[1.68,1.52,1.40,1.25,1.20],[1.62,1.47,1.33,1.20,1.18],[1.66,1.40,1.25,1.15,1.12],[1.50,1.32,1.20,1.08,1.05],[1.35,1.27,1.18,0.92,0.98]]},
{id:'m4',cb:'c4',lo:0.9,hi:1.65,mk:0,g:[[1.64,1.54,1.40,1.28,1.22],[1.55,1.47,1.33,1.22,1.18],[1.44,1.38,1.27,1.16,1.10],[1.35,1.30,1.20,1.05,0.98],[1.28,1.25,1.12,0.98,0.92]]},
{id:'m5',cb:'c5',lo:0.38,hi:0.90,mk:2,g:[[0.87,0.77,0.67,0.64,0.60],[0.82,0.70,0.64,0.58,0.52],[0.72,0.66,0.60,0.53,0.46],[0.66,0.62,0.56,0.50,0.43],[0.60,0.47,0.52,0.47,0.39]]},
{id:'m6',cb:'c6',lo:0.56,hi:1.01,mk:1,g:[[0.97,1.00,0.96,0.93,0.85],[0.89,0.84,0.78,0.68,0.67],[0.85,0.78,0.70,0.63,0.62],[0.88,0.74,0.67,0.58,0.60],[0.78,0.68,0.62,0.565,0.565]]}
];
M.forEach(function(o){
 var c=document.getElementById(o.id);if(!c||!c.getContext)return;
 var w=c.width,h=c.height,ctx=c.getContext('2d'),im=ctx.createImageData(w,h),d=im.data;
 var K=new Int16Array(w*h),T=new Float32Array(w*h),Mk=new Uint8Array(w*h),g=o.g;
 for(var y=0;y<h;y++)for(var x=0;x<w;x++){
  var u=x/(w-1)*4,v=y/(h-1)*4,i=Math.min(3,Math.floor(u)),j=Math.min(3,Math.floor(v)),fu=u-i,fv=v-j;
  var val=g[j][i]*(1-fu)*(1-fv)+g[j][i+1]*fu*(1-fv)+g[j+1][i]*(1-fu)*fv+g[j+1][i+1]*fu*fv;
  var t=(val-o.lo)/(o.hi-o.lo),k=y*w+x;T[k]=t;K[k]=Math.floor(t*8+1e-6);
  var m=0;if(o.mk==1&&u-3>v)m=1;if(o.mk==2&&v-3>u)m=1;Mk[k]=m;
 }
 for(var y2=0;y2<h;y2++)for(var x2=0;x2<w;x2++){
  var k2=y2*w+x2,r,gg,b;
  if(Mk[k2]){r=gg=b=255;}else{
   var q=(Math.floor(T[k2]*40)+0.5)/40,col=jet(q);r=col[0];gg=col[1];b=col[2];
   var line=false;
   if(x2<w-1&&K[k2]!=K[k2+1]&&!Mk[k2+1])line=true;
   if(y2<h-1&&K[k2]!=K[k2+w]&&!Mk[k2+w])line=true;
   if(line){r=r*0.45+27;gg=gg*0.45+27;b=b*0.45+27;}
  }
  d[k2*4]=r;d[k2*4+1]=gg;d[k2*4+2]=b;d[k2*4+3]=255;
 }
 ctx.putImageData(im,0,0);
 var cc=document.getElementById(o.cb),cw=cc.width,ch=cc.height,cx=cc.getContext('2d');
 for(var yy=0;yy<ch;yy++){var cl;if(yy<4)cl=[128,128,128];else if(yy>=ch-3)cl=[0,0,0];else{var tt=1-(yy-4)/(ch-8);cl=jet((Math.floor(tt*40)+0.5)/40);}
  cx.fillStyle='rgb('+Math.round(cl[0])+','+Math.round(cl[1])+','+Math.round(cl[2])+')';cx.fillRect(0,yy,cw,1);}
});
})();
</script>
</body></html>
